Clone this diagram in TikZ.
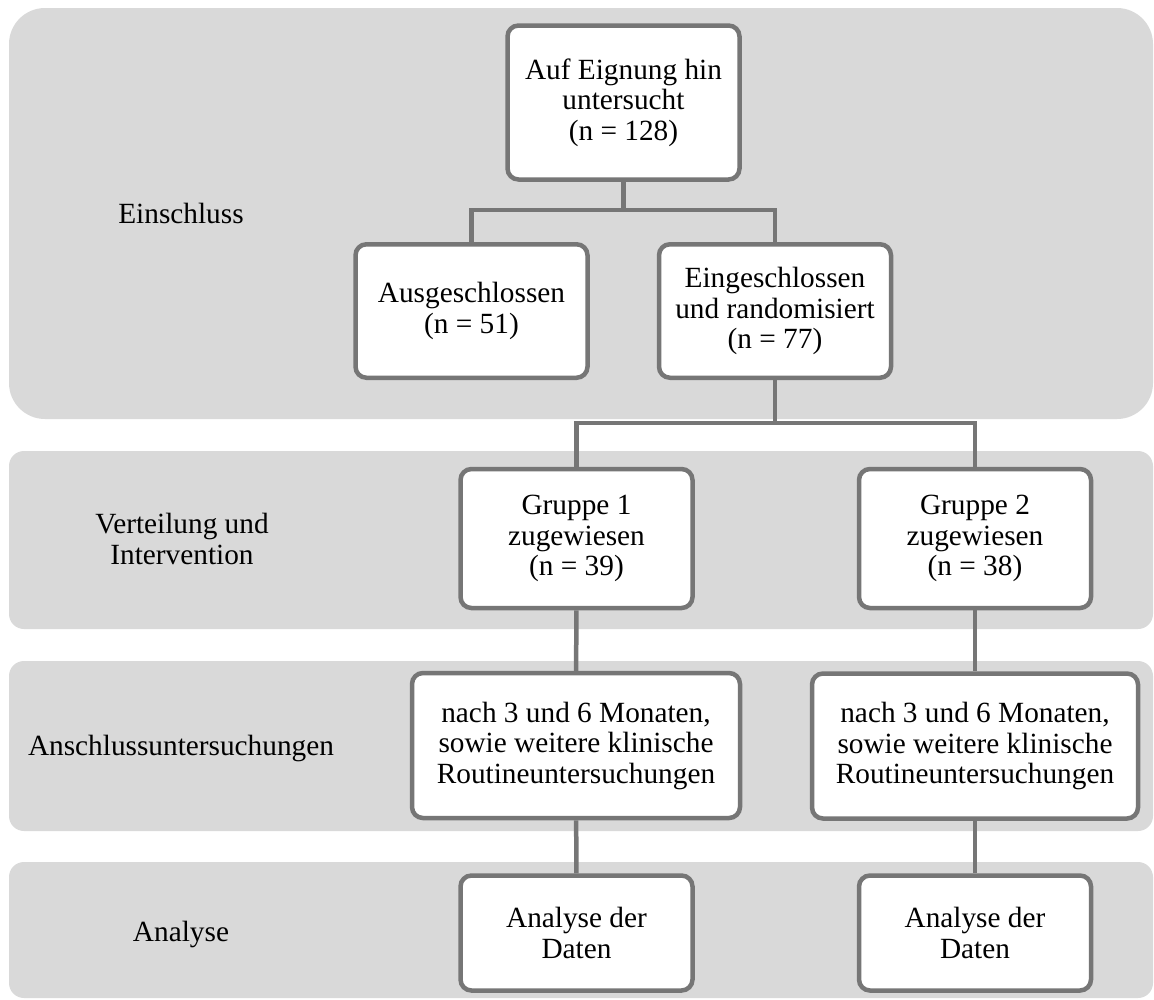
\documentclass[tikz,border=0pt]{standalone}
\usepackage{fontspec}
\setmainfont{Liberation Serif}
\definecolor{bandgray}{HTML}{D9D9D9}
\definecolor{framegray}{HTML}{767676}
\tikzset{
  every node/.style={font=\fontsize{29.3}{30.5}\selectfont},
  band/.style={fill=bandgray,draw=none},
  box/.style={draw=framegray,line width=4.5pt,fill=white,rounded corners=11pt,
    align=center,inner sep=0pt,minimum width=232pt},
  link/.style={draw=framegray,line width=4.5pt},
  phase/.style={align=center,inner sep=0pt}
}
\begin{document}
\begin{tikzpicture}[x=1pt,y=-1pt]
  \useasboundingbox (0,0) rectangle (1154,999);
  % bands
  \fill[band,rounded corners=36pt] (9,8) rectangle (1153,419);
  \foreach \t/\b in {451/629,661/831,862/998}
    \fill[band,rounded corners=15pt] (9,\t) rectangle (1153,\b);
  % phase labels
  \node[phase,anchor=base] (labincl) at (181,223) {Einschluss};
  \node[phase] (labdist) at (182,539) {Verteilung und\\Intervention};
  \node[phase,anchor=base] (labfollow) at (181,755) {Anschlussuntersuchungen};
  \node[phase,anchor=base] (labana) at (181,941) {Analyse};
  % boxes
  \node[box,minimum height=154pt] (screen) at (623.5,102.5) {Auf Eignung hin\\untersucht\\(n = 128)};
  \node[box,minimum height=133.5pt] (excl) at (471.5,311) {Ausgeschlossen\\(n = 51)};
  \node[box,minimum height=133.5pt] (incl) at (775,311) {Eingeschlossen\\und randomisiert\\(n = 77)};
  \node[box,minimum height=139pt] (grpone) at (576.5,538.5) {Gruppe 1\\zugewiesen\\(n = 39)};
  \node[box,minimum height=139pt] (grptwo) at (975,538.5) {Gruppe 2\\zugewiesen\\(n = 38)};
  \node[box,minimum width=328pt,minimum height=145pt] (followone) at (576,745.5)
    {nach 3 und 6 Monaten,\\sowie weitere klinische\\Routineuntersuchungen};
  \node[box,minimum width=326pt,minimum height=145pt] (followtwo) at (975,746)
    {nach 3 und 6 Monaten,\\sowie weitere klinische\\Routineuntersuchungen};
  \node[box,minimum height=115pt] (anaone) at (576.5,933) {Analyse der\\Daten};
  \node[box,minimum height=115pt] (anatwo) at (975,933) {Analyse der\\Daten};
  % connectors
  \coordinate (splitincl) at (623.5,210);
  \coordinate (splitgrp) at (775,423);
  \draw[link] (screen) -- (splitincl);
  \draw[link] (excl.north) |- (splitincl) -| (incl.north);
  \draw[link] (incl) -- (splitgrp);
  \draw[link] (grpone.north) |- (splitgrp) -| (grptwo.north);
  \foreach \a/\b in {grpone/followone,followone/anaone,grptwo/followtwo,followtwo/anatwo}
    \draw[link] (\a) -- (\b);
\end{tikzpicture}
\end{document}
